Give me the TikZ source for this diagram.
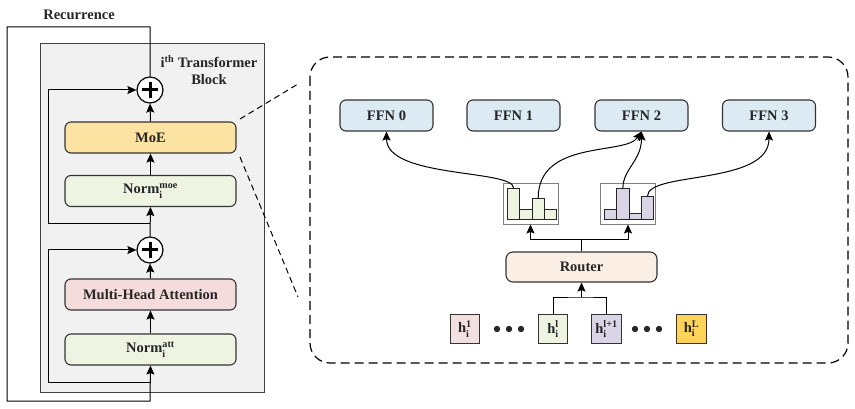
\documentclass[tikz,border=0pt]{standalone}
\usepackage{amsmath}
\usepackage{fontspec}
\setmainfont{Liberation Serif}
\usetikzlibrary{arrows.meta,calc}
\definecolor{moecol}{HTML}{FDE3A2}
\definecolor{normcol}{HTML}{EEF3E2}
\definecolor{mhacol}{HTML}{F4DCDC}
\definecolor{ffncol}{HTML}{DCEAF3}
\definecolor{routcol}{HTML}{FBEEE4}
\definecolor{blockcol}{HTML}{F1F1F1}
\definecolor{tokA}{HTML}{F2DFDF}
\definecolor{tokB}{HTML}{EEF3E2}
\definecolor{tokC}{HTML}{D9D5E6}
\definecolor{tokD}{HTML}{FDD35A}
\newcommand{\supsubtxt}[2]{$^{\text{#1}}_{\text{#2}}$}
\begin{document}
\begin{tikzpicture}[x=1pt,y=-1pt,
  every node/.style={font=\fontsize{14.5}{17}\selectfont\bfseries, text=black!85},
  blockbox/.style={draw=black!80, line width=1.1pt, rounded corners=6pt, minimum width=171pt, minimum height=31pt, inner sep=0pt},
  ffnbox/.style={draw=black!80, line width=1.1pt, rounded corners=6pt, fill=ffncol, minimum width=93pt, minimum height=31pt, inner sep=0pt},
  tokbox/.style={draw=black!80, line width=1.1pt, minimum width=29.5pt, minimum height=29.5pt, inner sep=0pt},
  plusnode/.style={circle, draw=black, fill=white, line width=1.2pt, minimum size=26pt, inner sep=0pt},
  plusbar/.style={line width=3pt},
  histbox/.style={draw=black!50, line width=0.9pt, minimum width=55pt, minimum height=41pt, inner sep=0pt},
  barnode/.style={draw=black!85, line width=0.9pt, minimum width=12.3pt, inner sep=0pt, anchor=south west},
  conn/.style={line width=1pt, draw=black},
  arr/.style={conn, -{Stealth[length=9pt,width=8pt,inset=1.5pt]}},
  zoomline/.style={line width=1pt, dash pattern=on 6pt off 4pt},
]
\useasboundingbox (0,0) rectangle (855,409);

% transformer block
\node[draw=black!75, line width=0.9pt, fill=blockcol, minimum width=224pt, minimum height=349pt, inner sep=0pt] (blk) at (152,217.5) {};
\node[align=center, font=\fontsize{14.5}{17}\selectfont\bfseries] (blklab) at (209,70) {i\textsuperscript{th} Transformer\\Block};
\node (reclab) at (79,15) {Recurrence};

\node[blockbox, fill=moecol] (moe) at (150.5,137.5) {MoE};
\node[blockbox, fill=normcol] (nm) at (150.5,191) {Norm\supsubtxt{moe}{i}};
\node[blockbox, fill=mhacol] (mha) at (150.5,294.5) {Multi-Head Attention};
\node[blockbox, fill=normcol] (na) at (150.5,349.5) {Norm\supsubtxt{att}{i}};

\node[plusnode] (p1) at (150,90) {};
\draw[plusbar] ([xshift=-8pt]p1.center) -- ([xshift=8pt]p1.center);
\draw[plusbar] ([yshift=-8pt]p1.center) -- ([yshift=8pt]p1.center);
\node[plusnode] (p2) at (150,250) {};
\draw[plusbar] ([xshift=-8pt]p2.center) -- ([xshift=8pt]p2.center);
\draw[plusbar] ([yshift=-8pt]p2.center) -- ([yshift=8pt]p2.center);

\draw[arr] (na.north) -- (mha.south);
\draw[arr] (mha.north) -- (p2.south);
\draw[arr] (p2.north) -- (nm.south);
\draw[arr] (nm.north) -- (moe.south);
\draw[arr] (moe.north) -- (p1.south);

% recurrence loop
\draw[arr] (p1.north) -- (150,27) -- (7,27) -- (7,401) -- (150,401) -- (na.south);
\coordinate (r2) at (150,382);
\coordinate (r1) at (150,224);
\draw[arr] (r2) -- (48,382) |- (p2.west);
\draw[arr] (r1) -- (48,224) |- (p1.west);

% zoom box
\draw[line width=1.2pt, dash pattern=on 9pt off 5pt, rounded corners=20pt] (310,57) rectangle (848,363);
\coordinate (z1a) at (240,119);
\coordinate (z1b) at (298,84);
\coordinate (z2a) at (240,157);
\coordinate (z2b) at (298,297);
\draw[zoomline] (z1a) -- (z1b);
\draw[zoomline] (z2a) -- (z2b);

% FFNs
\node[ffnbox] (f0) at (386.5,115.5) {FFN 0};
\node[ffnbox] (f1) at (513.5,115.5) {FFN 1};
\node[ffnbox] (f2) at (641.5,115.5) {FFN 2};
\node[ffnbox] (f3) at (769,115.5) {FFN 3};

% histograms
\node[histbox] (h1) at (530.5,203.5) {};
\node[histbox] (h2) at (628,203.5) {};
\node[barnode, fill=normcol, minimum height=31pt] (b11) at (507,220) {};
\node[barnode, fill=normcol, minimum height=10pt] (b12) at (519.3,220) {};
\node[barnode, fill=normcol, minimum height=21pt] (b13) at (531.6,220) {};
\node[barnode, fill=normcol, minimum height=10pt] (b14) at (543.9,220) {};
\node[barnode, fill=tokC, minimum height=10pt] (b21) at (604,220) {};
\node[barnode, fill=tokC, minimum height=31pt] (b22) at (616.3,220) {};
\node[barnode, fill=tokC, minimum height=6pt] (b23) at (628.6,220) {};
\node[barnode, fill=tokC, minimum height=23pt] (b24) at (640.9,220) {};

\draw[arr] (b11.north) .. controls +(0,-19) and +(0,47) .. (f0.south);
\draw[arr] (b13.north) .. controls +(0,-59) and +(-16,24) .. (f2.south);
\draw[arr] (b22.north) .. controls +(0,-19) and +(0,29) .. (f2.south);
\draw[arr] (b24.north) .. controls +(0,-25) and +(0,54) .. (f3.south);

% router
\node[draw=black!80, line width=1.1pt, rounded corners=7pt, fill=routcol, minimum width=151pt, minimum height=30pt, inner sep=0pt] (rout) at (581.5,267) {Router};
\draw[conn] (rout.north) -- ++(0,-12) coordinate (rj);
\draw[arr] (rj) -| (h1.south);
\draw[arr] (rj) -| (h2.south);

% tokens
\node[tokbox, fill=tokA] (t1) at (465,329) {h\supsubtxt{1}{i}};
\node[tokbox, fill=tokB] (t2) at (553,329) {h\supsubtxt{l}{i}};
\node[tokbox, fill=tokC] (t3) at (606.5,329) {h\supsubtxt{l+1}{i}};
\node[tokbox, fill=tokD] (t4) at (691.5,329) {h\supsubtxt{L}{i}};
\coordinate (tj) at (rout.south |- 0,297);
\draw[conn] (t2.north) |- (tj) -| (t3.north);
\draw[arr] (tj) -- (rout.south);

\foreach \x in {497,509,521,635,647,659} \fill[black!85] (\x,329) circle (3.2pt);
\end{tikzpicture}
\end{document}
